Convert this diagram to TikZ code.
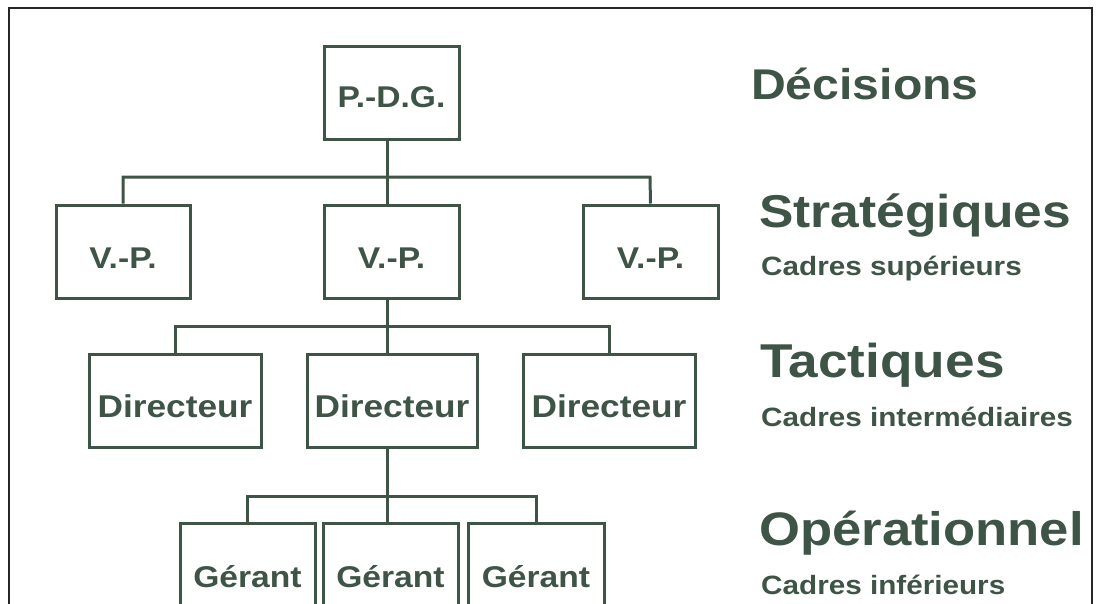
\documentclass[tikz,border=0pt]{standalone}
\usepackage{fontspec}
\setmainfont{Liberation Sans}[FakeStretch=1.12]
\definecolor{ink}{HTML}{3E5446}
\begin{document}
\begin{tikzpicture}[x=1pt,y=-1pt,
  box/.style={draw=ink, line width=3pt, inner sep=0pt, minimum width=#1,
    minimum height=93pt, text=ink, font=\bfseries\fontsize{30}{36}\selectfont,
    text height=33pt, text depth=0pt},
  conn/.style={draw=ink, line width=3pt},
  title/.style={anchor=base west, inner sep=0pt, text=ink, font=\bfseries\fontsize{46}{52}\selectfont},
  sub/.style={anchor=base west, inner sep=0pt, text=ink, font=\bfseries\fontsize{26.5}{32}\selectfont}]
\useasboundingbox (0,0) rectangle (1096,603);
\clip (0,0) rectangle (1096,603);
% frame
\draw[line width=1.6pt, black!85] (9,610) -- (9,8) -- (1092,8) -- (1092,610);
% boxes
\node[box=135pt, text height=29pt] (pdg) at (391.5,92.5) {P.-D.G.};
\node[box=134pt] (vpl) at (123,251.5) {V.-P.};
\node[box=135pt] (vpm) at (391.5,251.5) {V.-P.};
\node[box=135pt] (vpr) at (650.5,251.5) {V.-P.};
\node[box=172pt, font=\bfseries\fontsize{31.5}{36}\selectfont] (dl) at (175,401) {Directeur};
\node[box=170pt, font=\bfseries\fontsize{31.5}{36}\selectfont] (dm) at (392,401) {Directeur};
\node[box=172pt, font=\bfseries\fontsize{31.5}{36}\selectfont] (dr) at (609,401) {Directeur};
\node[box=135pt, text height=35pt] (gl) at (247.5,569.5) {Gérant};
\node[box=135pt, text height=35pt] (gm) at (390.5,569.5) {Gérant};
\node[box=136pt, text height=35pt] (gr) at (536,569.5) {Gérant};
% junctions
\coordinate (j1) at (387,177);
\coordinate (j2) at (387,326);
\coordinate (j3) at (387,496);
\coordinate (k1) at (123,177);
\coordinate (k2) at (650,177);
\coordinate (k3) at (175,326);
\coordinate (k4) at (609,326);
\coordinate (k5) at (247.5,496);
\coordinate (k6) at (536,496);
% connectors
\draw[conn] (pdg.south -| j1) -- (j1);
\draw[conn] (vpl.north) -- (k1) -- (k2) -- (vpr.north);
\draw[conn] (j1) -- (vpm.north -| j1);
\draw[conn] (vpm.south -| j2) -- (j2);
\draw[conn] (dl.north) -- (k3) -- (k4) -- (dr.north);
\draw[conn] (j2) -- (dm.north -| j2);
\draw[conn] (dm.south -| j3) -- (j3);
\draw[conn] (gl.north) -- (k5) -- (k6) -- (gr.north);
\draw[conn] (j3) -- (gm.north -| j3);
% right texts
\begin{scope}
\clip (9,8) rectangle (1091,603);
\node[title, font=\bfseries\fontsize{43}{50}\selectfont] (t1) at (751,99) {Décisions};
\node[title] (t2) at (759,227) {Stratégiques};
\node[sub] (s2) at (761,275) {Cadres supérieurs};
\node[title, font=\bfseries\fontsize{47.5}{52}\selectfont] (t3) at (760,377) {Tactiques};
\node[sub] (s3) at (761,426) {Cadres intermédiaires};
\node[title, font=\bfseries\fontsize{47}{52}\selectfont] (t4) at (759,545) {Opérationnel};
\node[sub] (s4) at (761,594) {Cadres inférieurs};
\end{scope}
\end{tikzpicture}
\end{document}
